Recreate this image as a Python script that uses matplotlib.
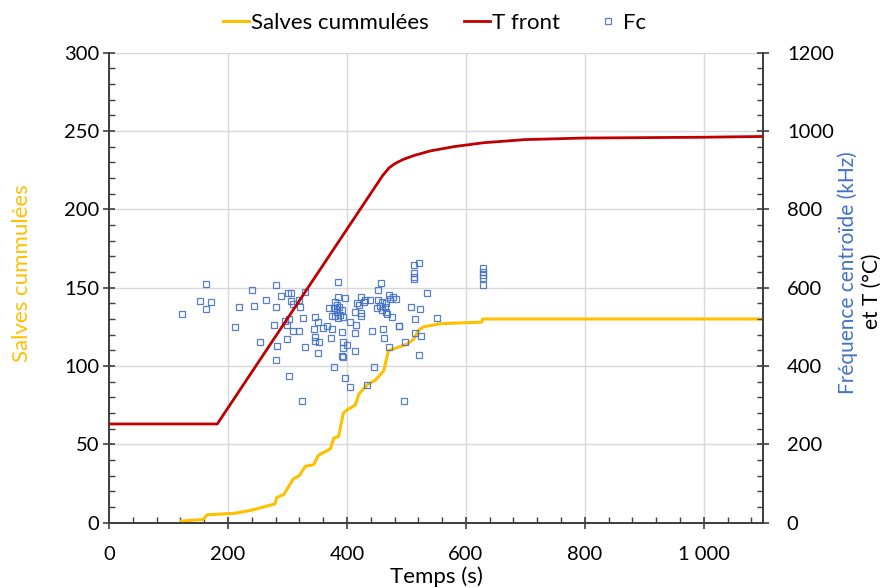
import matplotlib
matplotlib.use("Agg")
import matplotlib.pyplot as plt
from matplotlib.ticker import MultipleLocator, FuncFormatter

plt.rcParams['font.family'] = ['Lato', 'DejaVu Sans']

# Salves cumulees (axe gauche)
t_salves = [121, 158, 165, 212, 240, 279, 282, 294, 305, 310, 320, 330, 344, 352,
            372, 378, 386, 394, 400, 414, 420, 434, 448, 462, 470, 479, 501, 512,
            521, 529, 557, 627, 628, 1100]
salves = [1, 2, 5, 6, 8, 12, 16, 18, 25, 28, 30, 36, 37, 43,
          47, 54, 55, 70, 72, 75, 82, 88, 91, 97, 110, 111, 114, 117,
          123, 125, 127, 128, 130, 130]

# Temperature du front (axe droit, degC)
t_front = [0, 182, 460, 471, 480, 494, 512, 540, 580, 630, 700, 800, 1000, 1100]
T_front = [252, 252, 886, 906, 916, 927, 937, 949, 960, 970, 978, 982, 984, 986]

# Frequence centroide (axe droit, kHz)
t_fc = [163, 240, 153, 171, 163, 122, 219, 243, 264, 211, 254,
        281, 385, 289, 301, 306, 329, 306, 319, 310, 281, 321, 385, 380, 383,
        370, 378, 383, 375, 380, 385, 347, 326, 302, 296, 299, 278, 352, 359,
        366, 375, 344, 310, 320, 391, 299, 347, 347, 353, 374, 282, 330, 351,
        391, 281, 378, 303, 324,
        458, 453, 470, 477, 473, 423, 439, 431, 428, 397, 417, 420, 453, 459,
        465, 456, 464, 451, 459, 465, 468, 386, 391, 383, 389, 394, 414, 423,
        423, 406, 416, 475, 487, 414, 443, 461, 463, 394, 400, 394, 414, 471,
        393, 445, 396, 406, 433,
        512, 521, 512, 512, 512, 535, 482, 507, 523, 515, 552, 488, 515, 525,
        498, 521, 496,
        628, 628, 628, 628, 628]
fc = [610, 595, 566, 563, 546, 534, 551, 552, 569, 500, 461,
      608, 615, 579, 586, 586, 588, 566, 569, 558, 551, 551, 577, 564, 556,
      548, 547, 546, 528, 528, 522, 525, 523, 520, 515, 505, 505, 513, 496,
      502, 495, 494, 489, 489, 488, 469, 473, 465, 461, 471, 451, 449, 432,
      426, 415, 398, 374, 311,
      611, 594, 581, 577, 571, 575, 569, 569, 564, 573, 560, 556, 569, 563,
      560, 554, 551, 547, 543, 539, 533, 551, 543, 539, 530, 526, 539, 535,
      528, 513, 505, 526, 502, 484, 489, 494, 471, 462, 454, 445, 437, 449,
      424, 398, 370, 346, 352,
      658, 662, 637, 628, 621, 586, 570, 551, 546, 519, 522, 502, 484, 477,
      461, 428, 311,
      649, 641, 632, 624, 607]

x_ticks = [0, 200, 400, 600, 800, 1000]
x_labels = ['0', '200', '400', '600', '800', '1 000']

YELLOW = '#FFC000'
RED = '#C00000'
BLUE = '#4472C4'
GRID = '#D9D9D9'
AXC = '#404040'
FS_TICK = 14.5
FS_TXT = 16

fig = plt.figure(figsize=(8.87, 5.88), dpi=100)
ax = fig.add_axes([0.1229, 0.1111, 0.7376, 0.7994])
ax2 = ax.twinx()

l1, = ax.plot(t_salves, salves, color=YELLOW, lw=2.2, label='Salves cummulées', zorder=3)
l2, = ax2.plot(t_front, T_front, color=RED, lw=2.0, label='T front', zorder=3)
l3, = ax2.plot(t_fc, fc, ls='none', marker='s', ms=4.3, mfc='none', mec=BLUE,
               mew=0.9, alpha=0.9, label='Fc', zorder=2)

ax.set_xlim(0, 1100)
ax.set_ylim(0, 300)
ax2.set_ylim(0, 1200)

ax.set_xticks(x_ticks)
ax.set_xticklabels(x_labels)
ax.xaxis.set_minor_locator(MultipleLocator(40))
ax.yaxis.set_major_locator(MultipleLocator(50))
ax.yaxis.set_minor_locator(MultipleLocator(10))
ax2.yaxis.set_major_locator(MultipleLocator(200))
ax2.yaxis.set_minor_locator(MultipleLocator(40))
ax2.yaxis.set_major_formatter(FuncFormatter(lambda v, p: '%d' % v))

ax.grid(True, which='major', color=GRID, lw=1.0)
ax.set_axisbelow(True)

for a in (ax, ax2):
    a.tick_params(which='major', direction='inout', length=8, width=1.2,
                  color=AXC, labelsize=FS_TICK, labelcolor='black')
    a.tick_params(which='minor', direction='in', length=4, width=1.0, color=AXC)
    a.spines['top'].set_visible(False)
    for s in ('left', 'right', 'bottom'):
        a.spines[s].set_color(AXC)
        a.spines[s].set_linewidth(1.3)
ax.tick_params(axis='x', pad=13)
ax2.tick_params(axis='y', pad=13)
ax.tick_params(axis='y', pad=3)

fig.text(0.025, 0.535, 'Salves cummulées', color=YELLOW, fontsize=FS_TXT,
         rotation=90, ha='center', va='center')
fig.text(0.956, 0.537, 'Fréquence centroïde (kHz)', color=BLUE, fontsize=15,
         rotation=90, ha='center', va='center')
fig.text(0.983, 0.504, 'et T (°C)', color='black', fontsize=15,
         rotation=90, ha='center', va='center')
fig.text(0.492, 0.020, 'Temps (s)', color='black', fontsize=FS_TXT,
         ha='center', va='center')

fig.legend(handles=[l1, l2, l3], loc='upper center', bbox_to_anchor=(0.490, 1.012),
           ncol=3, frameon=False, fontsize=FS_TXT, handlelength=1.15,
           handletextpad=0.1, columnspacing=1.6, markerscale=1.0)

fig.savefig('out.png', dpi=100)
